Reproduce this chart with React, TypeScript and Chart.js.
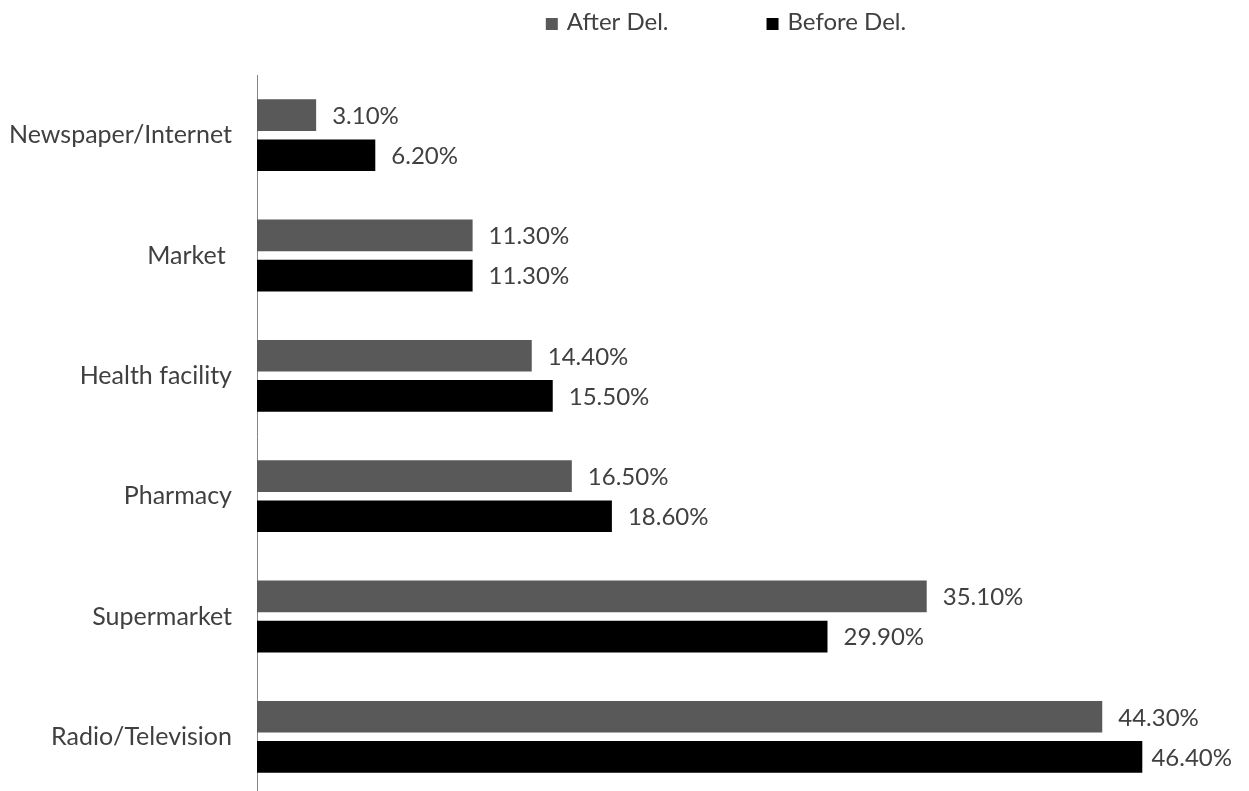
import React, { useEffect, useRef } from "react";
import { Chart, registerables } from "chart.js";

Chart.register(...registerables);

// ---- data ----
const categories = ["Newspaper/Internet", "Market ", "Health facility", "Pharmacy", "Supermarket", "Radio/Television"];
const seriesLabels = ["After Del.", "Before Del."];
const afterDel = [3.1, 11.3, 14.4, 16.5, 35.1, 44.3];
const beforeDel = [6.2, 11.3, 15.5, 18.6, 29.9, 46.4];
const seriesColors = ["#595959", "#000000"];
const xMax = 50;

// ---- style ----
const FONT_FAMILY = "Lato, 'Liberation Sans', sans-serif";
const FONT_SIZE = 24;
const TICK_FONT_SIZE = 25;
const TEXT_COLOR = "#404040";
const CANVAS_W = 1249;
const CANVAS_H = 800;

const valueLabelsPlugin = {
  id: "valueLabels",
  afterDatasetsDraw(chart: any) {
    const ctx = chart.ctx;
    ctx.save();
    ctx.font = `${FONT_SIZE}px ${FONT_FAMILY}`;
    ctx.fillStyle = TEXT_COLOR;
    ctx.textAlign = "left";
    ctx.textBaseline = "middle";
    const maxRight = chart.width - 17;
    chart.data.datasets.forEach((ds: any, i: number) => {
      const meta = chart.getDatasetMeta(i);
      meta.data.forEach((bar: any, j: number) => {
        const v = ds.data[j] as number;
        const text = v.toFixed(2) + "%";
        const w = ctx.measureText(text).width;
        let x = bar.x + 16;
        if (x + w > maxRight) x = maxRight - w;
        ctx.fillText(text, x, bar.y + 1);
      });
    });
    ctx.restore();
  },
};

const legendPlugin = {
  id: "topLegend",
  afterDraw(chart: any) {
    const ctx = chart.ctx;
    ctx.save();
    ctx.font = `${FONT_SIZE}px ${FONT_FAMILY}`;
    const box = 12;
    const textGap = 9;
    const itemGap = 98;
    const items = chart.data.datasets.map((ds: any) => ({
      text: ds.label as string,
      color: ds.backgroundColor as string,
      w: box + textGap + ctx.measureText(ds.label).width,
    }));
    const total = items.reduce((s: number, it: any) => s + it.w, 0) + itemGap * (items.length - 1);
    let x = 726 - total / 2;
    const boxTop = 18;
    const baseline = 30;
    items.forEach((it: any) => {
      ctx.fillStyle = it.color;
      ctx.fillRect(x, boxTop, box, box);
      ctx.fillStyle = TEXT_COLOR;
      ctx.textAlign = "left";
      ctx.textBaseline = "alphabetic";
      ctx.fillText(it.text, x + box + textGap, baseline);
      x += it.w + itemGap;
    });
    ctx.restore();
  },
};

export default function App() {
  const canvasRef = useRef<HTMLCanvasElement | null>(null);

  useEffect(() => {
    if (!canvasRef.current) return;
    const chart = new Chart(canvasRef.current, {
      type: "bar",
      data: {
        labels: categories,
        datasets: [
          {
            label: seriesLabels[0],
            data: afterDel,
            backgroundColor: seriesColors[0],
            categoryPercentage: 0.667,
            barPercentage: 0.79,
          },
          {
            label: seriesLabels[1],
            data: beforeDel,
            backgroundColor: seriesColors[1],
            categoryPercentage: 0.667,
            barPercentage: 0.79,
          },
        ],
      },
      options: {
        indexAxis: "y",
        animation: false,
        responsive: false,
        devicePixelRatio: 1,
        layout: { padding: { top: 75, bottom: 3, left: 0, right: 38 } },
        plugins: {
          legend: { display: false },
          tooltip: { enabled: false },
          title: { display: false },
        },
        scales: {
          x: {
            display: false,
            min: 0,
            max: xMax,
          },
          y: {
            afterFit: (scale: any) => {
              scale.width = 257;
              scale.paddingTop = 0;
              scale.paddingBottom = 0;
            },
            grid: { display: false, drawTicks: false },
            border: { display: true, color: "#868686", width: 1 },
            ticks: {
              autoSkip: false,
              padding: 25,
              color: TEXT_COLOR,
              font: { family: FONT_FAMILY, size: TICK_FONT_SIZE },
            },
          },
        },
      },
      plugins: [valueLabelsPlugin, legendPlugin],
    });
    return () => chart.destroy();
  }, []);

  return (
    <div
      style={{
        position: "fixed",
        top: 0,
        left: 0,
        width: CANVAS_W,
        height: 791,
        overflow: "hidden",
        background: "#ffffff",
      }}
    >
      <canvas
        ref={canvasRef}
        width={CANVAS_W}
        height={CANVAS_H}
        style={{ display: "block", width: CANVAS_W, height: CANVAS_H }}
      />
    </div>
  );
}
